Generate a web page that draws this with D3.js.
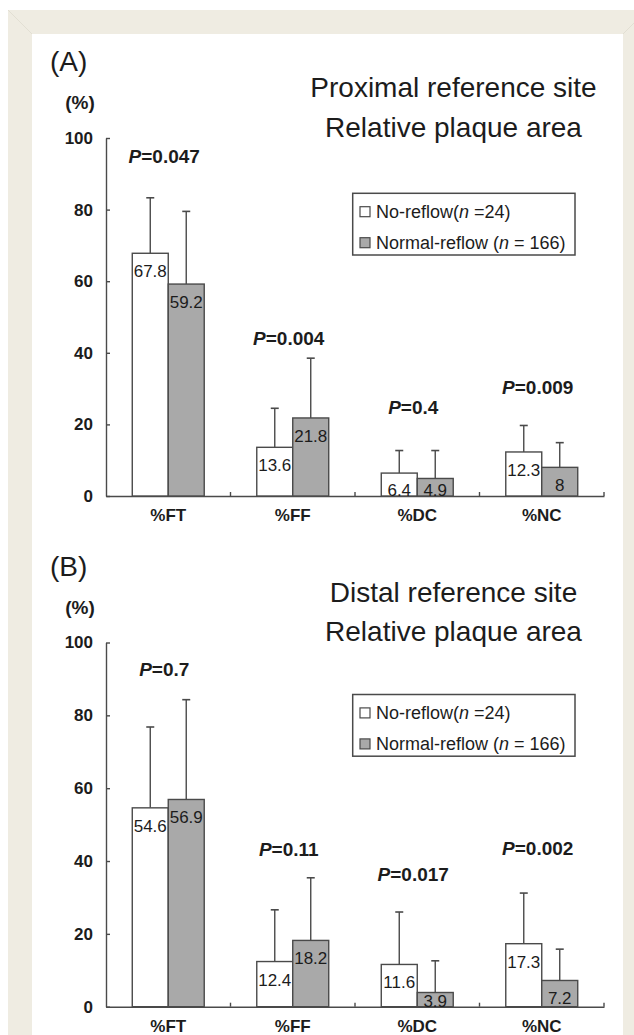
<!DOCTYPE html>
<html>
<head>
<meta charset="utf-8">
<script src="https://cdn.jsdelivr.net/npm/d3@7"></script>
<style>
body { margin: 0; background: #fff; }
svg { display: block; font-family: "Liberation Sans", Arial, sans-serif; }
</style>
</head>
<body>
<script>
// categories and groups
var categories = ["%FT", "%FF", "%DC", "%NC"];
var series = ["No-reflow", "Normal-reflow"];
var seriesN = ["24", "166"];
var yTicks = [0, 20, 40, 60, 80, 100];

// (A) proximal reference site
var proxNoReflow = [67.8, 13.6, 6.4, 12.3];
var proxNoReflowSD = [15.5, 10.9, 6.3, 7.4];
var proxNormal = [59.2, 21.8, 4.9, 8];
var proxNormalSD = [20.3, 16.7, 7.8, 6.9];
var proxP = ["0.047", "0.004", "0.4", "0.009"];
var proxPLevel = [92.9, 42.2, 22.9, 28.5];

// (B) distal reference site
var distNoReflow = [54.6, 12.4, 11.6, 17.3];
var distNoReflowSD = [22.2, 14.2, 14.4, 13.9];
var distNormal = [56.9, 18.2, 3.9, 7.2];
var distNormalSD = [27.4, 17.2, 8.7, 8.6];
var distP = ["0.7", "0.11", "0.017", "0.002"];
var distPLevel = [90.8, 41.3, 34.4, 41.6];

var W = 634, H = 1035;
var fills = ["#ffffff", "#a9a9a9"];
var ink = "#1c1c1c";
var line = "#4a4a4a";

var panels = [
    { tag: "(A)", title: ["Proximal reference site", "Relative plaque area"],
      means: [proxNoReflow, proxNormal], sds: [proxNoReflowSD, proxNormalSD],
      p: proxP, pLevel: proxPLevel, top: 138, bottom: 496, legend: 55.3 },
    { tag: "(B)", title: ["Distal reference site", "Relative plaque area"],
      means: [distNoReflow, distNormal], sds: [distNoReflowSD, distNormalSD],
      p: distP, pLevel: distPLevel, top: 642.5, bottom: 1006.7, legend: 52 }
];

var svg = d3.select("body").append("svg")
    .attr("width", W).attr("height", H);

// frame
svg.append("rect").attr("width", W).attr("height", H).attr("fill", "#fff");
svg.append("rect").attr("x", 8).attr("y", 10)
    .attr("width", W - 8).attr("height", H - 10).attr("fill", "#efece2");
svg.append("rect").attr("x", 32).attr("y", 34)
    .attr("width", 623 - 32).attr("height", H - 34).attr("fill", "#fff");
svg.append("line").attr("x1", 8).attr("y1", 10).attr("x2", 32).attr("y2", 34)
    .attr("stroke", "#e2dfd3").attr("stroke-width", 1);
svg.append("line").attr("x1", 623).attr("y1", 34).attr("x2", 634).attr("y2", 23)
    .attr("stroke", "#e2dfd3").attr("stroke-width", 1);

function draw_panel(pn) {
    var g = svg.append("g");

    var y = d3.scaleLinear().domain([0, 100]).range([pn.bottom, pn.top]);
    var x = d3.scaleBand().domain(categories).range([106, 604]);
    var xs = d3.scaleBand().domain(series).range([0, x.bandwidth()]).paddingOuter(0.73);

    // headings
    g.append("text").attr("x", 50).attr("y", pn.top - 67)
        .attr("font-size", 28).attr("fill", ink).text(pn.tag);
    g.append("text").attr("x", 80).attr("y", pn.top - 29)
        .attr("text-anchor", "middle").attr("font-size", 19)
        .attr("font-weight", "bold").attr("fill", ink).text("(%)");
    pn.title.forEach(function(t, i) {
        g.append("text").attr("x", 453.5).attr("y", pn.top - 41 + i * 39.5)
            .attr("text-anchor", "middle").attr("font-size", 28)
            .attr("fill", ink).text(t);
    });

    // y axis
    var ya = g.append("g").attr("transform", "translate(106,0)")
        .call(d3.axisLeft(y).tickValues(yTicks).tickSizeInner(-4)
              .tickSizeOuter(0).tickPadding(13));
    ya.selectAll("path, line").attr("stroke", line).attr("stroke-width", 1.4);
    ya.selectAll("text").attr("font-size", 17).attr("font-weight", "bold")
        .attr("fill", ink).attr("font-family", null);

    // x axis
    var xa = g.append("g").attr("transform", "translate(0," + pn.bottom + ")")
        .call(d3.axisBottom(x).tickSize(0).tickPadding(13));
    xa.select(".domain").attr("stroke", line).attr("stroke-width", 1.4);
    xa.selectAll("text").attr("font-size", 17).attr("font-weight", "bold")
        .attr("fill", ink).attr("font-family", null);
    g.append("g").selectAll("line").data(categories).join("line")
        .attr("x1", function(c) { return x(c) + x.bandwidth(); })
        .attr("x2", function(c) { return x(c) + x.bandwidth(); })
        .attr("y1", pn.bottom).attr("y2", pn.bottom - 4)
        .attr("stroke", line).attr("stroke-width", 1.4);

    // bars, error bars and labels per series
    series.forEach(function(s, si) {
        var rows = categories.map(function(c, ci) {
            return { c: c, v: pn.means[si][ci], sd: pn.sds[si][ci] };
        });
        var cx = function(d) { return x(d.c) + xs(s) + xs.bandwidth() / 2; };
        var sg = g.append("g");

        sg.selectAll("line.err").data(rows).join("line").attr("class", "err")
            .attr("x1", cx).attr("x2", cx)
            .attr("y1", function(d) { return y(d.v); })
            .attr("y2", function(d) { return y(d.v + d.sd); })
            .attr("stroke", line).attr("stroke-width", 1.4);
        sg.selectAll("line.cap").data(rows).join("line").attr("class", "cap")
            .attr("x1", function(d) { return cx(d) - 4; })
            .attr("x2", function(d) { return cx(d) + 4; })
            .attr("y1", function(d) { return y(d.v + d.sd); })
            .attr("y2", function(d) { return y(d.v + d.sd); })
            .attr("stroke", line).attr("stroke-width", 1.6);

        sg.selectAll("rect").data(rows).join("rect")
            .attr("x", function(d) { return x(d.c) + xs(s); })
            .attr("y", function(d) { return y(d.v); })
            .attr("width", xs.bandwidth())
            .attr("height", function(d) { return y(0) - y(d.v); })
            .attr("fill", fills[si]).attr("stroke", line).attr("stroke-width", 1.4);

        sg.selectAll("text").data(rows).join("text")
            .attr("x", cx)
            .attr("y", function(d) { return Math.min(y(d.v) + 18, y(0) - 6) + 6; })
            .attr("text-anchor", "middle").attr("font-size", 17)
            .attr("fill", ink).text(function(d) { return d.v; });
    });

    // P values
    var pt = g.append("g").selectAll("text").data(categories).join("text")
        .attr("x", function(c) { return x(c) + x.bandwidth() / 2 - 4; })
        .attr("y", function(c, i) { return y(pn.pLevel[i]); })
        .attr("text-anchor", "middle").attr("font-size", 19)
        .attr("font-weight", "bold").attr("fill", ink);
    pt.append("tspan").attr("font-style", "italic").text("P");
    pt.append("tspan").text(function(c, i) { return "=" + pn.p[i]; });

    // legend
    var lg = g.append("g").attr("transform", "translate(352.7," + (pn.top + pn.legend) + ")");
    lg.append("rect").attr("width", 222.3).attr("height", 61.7)
        .attr("fill", "#fff").attr("stroke", line).attr("stroke-width", 1.5);
    series.forEach(function(s, si) {
        var cy = 18.4 + si * 31;
        lg.append("rect").attr("x", 7.3).attr("y", cy - 5).attr("width", 10).attr("height", 10)
            .attr("fill", fills[si]).attr("stroke", line).attr("stroke-width", 1.2);
        var t = lg.append("text").attr("x", 23.3).attr("y", cy + 6.5)
            .attr("font-size", 18).attr("fill", ink);
        t.append("tspan").text(s + (si === 0 ? "(" : " ("));
        t.append("tspan").attr("font-style", "italic").text("n");
        t.append("tspan").text(si === 0 ? " =" + seriesN[si] + ")" : " = " + seriesN[si] + ")");
    });
}

panels.forEach(draw_panel);
</script>
</body>
</html>
